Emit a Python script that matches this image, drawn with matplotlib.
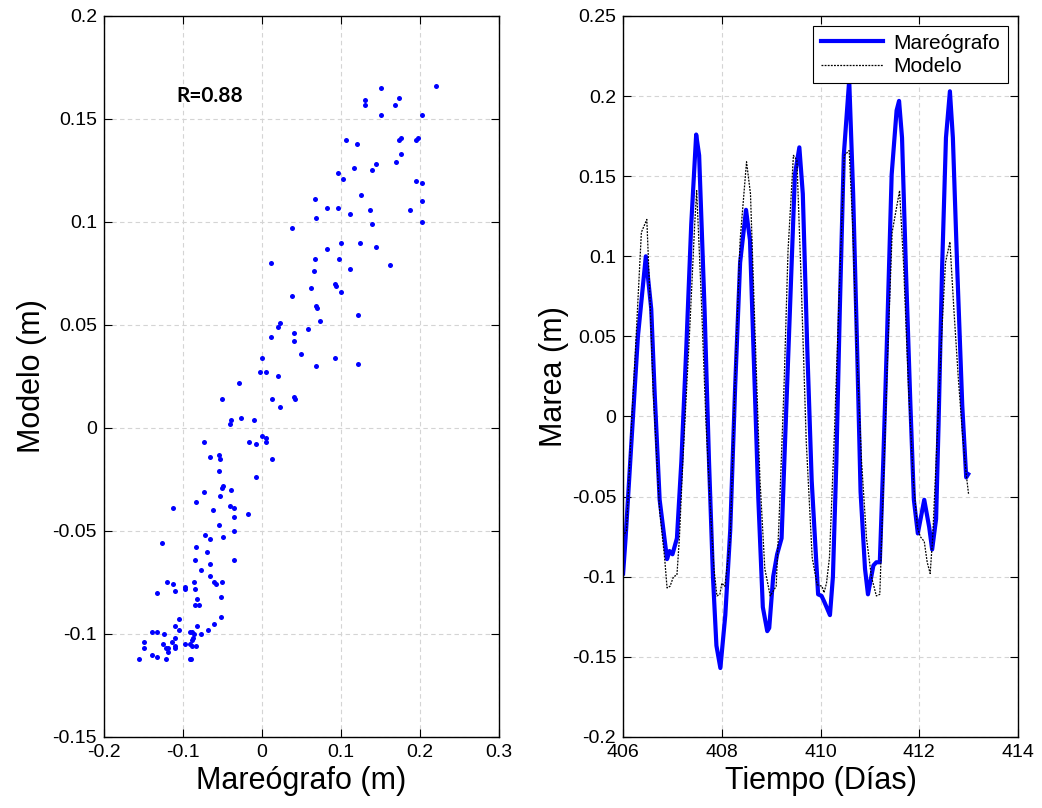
'''
    Scatter of model vs tide gauge and tide time series
'''

import numpy as np
import matplotlib
matplotlib.use('Agg')
import matplotlib.pyplot as plt
from matplotlib.ticker import FuncFormatter

# Scatter: tide gauge (x) vs model (y), metres
mareo_x = [0.220, 0.151, 0.130, 0.130, 0.173, 0.168, 0.151, 0.202, 0.106, 0.120,
           0.173, 0.176, 0.195, 0.197, 0.176, 0.117, 0.145, 0.139, 0.170, 0.096,
           0.102, 0.195, 0.202, 0.067, 0.082, 0.096, 0.111, 0.125, 0.137, 0.187,
           0.203, 0.203, 0.069, 0.038, 0.139, 0.100, 0.124, 0.145, 0.082, 0.011,
           0.067, 0.098, 0.162, 0.066, 0.111, 0.062, 0.092, 0.094, 0.100, 0.038,
           0.068, 0.070,
           0.122, 0.073, 0.023, 0.020, 0.058, 0.040, 0.041, 0.011, 0.049, 0.000,
           0.092, 0.068, 0.122, -0.003, 0.005, 0.020, -0.029, -0.051, 0.013, 0.041,
           0.042, 0.023, -0.027, -0.039, -0.041, -0.010, 0.000, 0.005, 0.005, -0.017,
           -0.008, -0.073, -0.054, -0.066, -0.053, 0.013, -0.054, -0.008, -0.051, -0.049,
           -0.039, -0.073, -0.053,
           -0.083, -0.112, -0.062, -0.041, -0.036, -0.018, -0.036, -0.054, -0.035, -0.127,
           -0.072, -0.066, -0.049, -0.083, -0.070, -0.085, -0.066, -0.036, -0.077, -0.066,
           -0.120, -0.112, -0.098, -0.098, -0.086, -0.061, -0.058, -0.050, -0.133, -0.110,
           -0.085, -0.052, -0.082, -0.085, -0.080, -0.052, -0.105, -0.061, -0.110, -0.082,
           -0.139, -0.133, -0.124, -0.105, -0.091, -0.089, -0.086, -0.077, -0.068, -0.110,
           -0.087, -0.089, -0.149, -0.125, -0.114, -0.110, -0.097, -0.091, -0.083, -0.149,
           -0.121, -0.119, -0.110, -0.089, -0.139, -0.133, -0.119, -0.156, -0.121, -0.091,
           -0.090]
modelo_y = [0.166, 0.165, 0.159, 0.157, 0.160, 0.157, 0.152, 0.152, 0.140, 0.138,
            0.140, 0.141, 0.140, 0.141, 0.133, 0.126, 0.128, 0.125, 0.129, 0.124,
            0.121, 0.120, 0.119, 0.111, 0.107, 0.107, 0.104, 0.113, 0.106, 0.106,
            0.110, 0.100, 0.102, 0.097, 0.099, 0.090, 0.090, 0.088, 0.087, 0.080,
            0.082, 0.082, 0.079, 0.076, 0.077, 0.068, 0.070, 0.069, 0.066, 0.064,
            0.059, 0.058,
            0.055, 0.052, 0.051, 0.049, 0.048, 0.046, 0.042, 0.044, 0.036, 0.034,
            0.034, 0.030, 0.031, 0.027, 0.027, 0.025, 0.022, 0.014, 0.014, 0.015,
            0.014, 0.010, 0.005, 0.004, 0.002, 0.004, -0.004, -0.005, -0.007, -0.007,
            -0.008, -0.007, -0.013, -0.014, -0.015, -0.015, -0.021, -0.024, -0.029, -0.028,
            -0.030, -0.031, -0.033,
            -0.036, -0.039, -0.040, -0.038, -0.039, -0.042, -0.043, -0.047, -0.050, -0.056,
            -0.052, -0.054, -0.053, -0.058, -0.060, -0.064, -0.066, -0.064, -0.069, -0.072,
            -0.075, -0.076, -0.077, -0.078, -0.075, -0.075, -0.076, -0.075, -0.080, -0.079,
            -0.078, -0.082, -0.083, -0.086, -0.086, -0.092, -0.093, -0.095, -0.096, -0.096,
            -0.099, -0.099, -0.100, -0.098, -0.099, -0.099, -0.100, -0.100, -0.098, -0.102,
            -0.102, -0.103, -0.104, -0.105, -0.104, -0.106, -0.105, -0.105, -0.106, -0.107,
            -0.107, -0.107, -0.107, -0.106, -0.110, -0.111, -0.109, -0.112, -0.112, -0.112,
            -0.112]

# Time series (days)
t_mareo = [406.00, 406.05, 406.20, 406.30, 406.46, 406.57, 406.64, 406.74, 406.89, 406.94,
           407.00, 407.09, 407.18, 407.28, 407.38, 407.48, 407.54, 407.65, 407.74, 407.82,
           407.89, 407.97, 408.07, 408.17, 408.27, 408.37, 408.49, 408.57, 408.64, 408.74,
           408.83, 408.92, 408.96, 409.04, 409.12, 409.21, 409.28, 409.38, 409.48, 409.57,
           409.64, 409.73, 409.82, 409.95, 410.02, 410.08, 410.19, 410.25, 410.32, 410.39,
           410.47, 410.58, 410.66, 410.74, 410.81, 410.90, 410.96, 411.07, 411.13, 411.20,
           411.27, 411.34, 411.44, 411.54, 411.59, 411.65, 411.73, 411.82, 411.89, 411.97,
           412.10, 412.20, 412.26, 412.34, 412.39, 412.46, 412.54, 412.62, 412.68, 412.77,
           412.87, 412.95, 412.99]
h_mareo = [-0.098, -0.076, 0.000, 0.050, 0.100, 0.067, 0.014, -0.052, -0.089, -0.084,
           -0.086, -0.076, -0.028, 0.043, 0.120, 0.176, 0.163, 0.067, -0.028, -0.100,
           -0.143, -0.157, -0.124, -0.071, 0.019, 0.096, 0.129, 0.110, 0.043, -0.052,
           -0.119, -0.134, -0.132, -0.100, -0.086, -0.076, -0.016, 0.067, 0.151, 0.168,
           0.139, 0.043, -0.040, -0.111, -0.112, -0.116, -0.124, -0.100, -0.028, 0.067,
           0.163, 0.210, 0.139, 0.043, -0.047, -0.095, -0.111, -0.093, -0.091, -0.091,
           -0.028, 0.043, 0.151, 0.191, 0.197, 0.174, 0.091, 0.007, -0.052, -0.073,
           -0.052, -0.069, -0.083, -0.064, -0.005, 0.091, 0.174, 0.203, 0.174, 0.091,
           0.007, -0.038, -0.036]

t_modelo = [406.00, 406.07, 406.17, 406.26, 406.37, 406.48, 406.54, 406.61, 406.74, 406.84,
            406.89, 406.95, 407.02, 407.09, 407.14, 407.21, 407.35, 407.45, 407.49, 407.58,
            407.68, 407.78, 407.84, 407.90, 407.96, 408.00, 408.06, 408.12, 408.17, 408.27,
            408.37, 408.50, 408.58, 408.67, 408.77, 408.87, 408.98, 409.02, 409.10, 409.16,
            409.26, 409.34, 409.45, 409.52, 409.60, 409.71, 409.83, 409.93, 410.03, 410.07,
            410.12, 410.18, 410.28, 410.38, 410.48, 410.58, 410.65, 410.73, 410.83, 410.93,
            411.03, 411.13, 411.20, 411.25, 411.35, 411.45, 411.60, 411.68, 411.78, 411.88,
            411.96, 412.02, 412.10, 412.16, 412.22, 412.27, 412.34, 412.39, 412.46, 412.53,
            412.62, 412.70, 412.79, 412.87, 412.95, 413.00]
h_modelo = [-0.075, -0.071, -0.005, 0.048, 0.115, 0.123, 0.077, 0.015, -0.059, -0.088,
            -0.107, -0.106, -0.100, -0.099, -0.076, -0.028, 0.055, 0.120, 0.141, 0.077,
            -0.005, -0.064, -0.095, -0.112, -0.111, -0.104, -0.106, -0.090, -0.076, 0.024,
            0.110, 0.159, 0.139, 0.055, -0.038, -0.095, -0.112, -0.110, -0.106, -0.064,
            0.019, 0.103, 0.163, 0.160, 0.091, -0.016, -0.088, -0.105, -0.106, -0.110,
            -0.104, -0.088, -0.011, 0.079, 0.163, 0.166, 0.120, 0.043, -0.028, -0.076,
            -0.100, -0.112, -0.111, -0.064, 0.031, 0.115, 0.141, 0.096, 0.019, -0.040,
            -0.069, -0.075, -0.078, -0.091, -0.098, -0.076, -0.028, 0.007, 0.055, 0.096,
            0.109, 0.067, 0.024, -0.009, -0.036, -0.049]

R_TEXT = 'R=0.88'


def style_axes(ax, xticks, yticks):
    ax.set_xticks(xticks)
    ax.set_yticks(yticks)
    ax.set_xlim(xticks[0], xticks[-1])
    ax.set_ylim(yticks[0], yticks[-1])
    fmt = FuncFormatter(lambda v, p: f'{round(v, 4) + 0.0:g}')
    ax.xaxis.set_major_formatter(fmt)
    ax.yaxis.set_major_formatter(fmt)
    ax.tick_params(direction='in', top=True, right=True, length=6, width=0.8,
                   labelsize=14, pad=5)
    ax.grid(True, color='#d4d4d4', linestyle=(0, (4, 3)), linewidth=0.8)
    ax.set_axisbelow(True)
    for s in ax.spines.values():
        s.set_linewidth(1.0)


if __name__ == '__main__':
    plt.rcParams['font.family'] = ['Liberation Sans', 'DejaVu Sans']

    fig = plt.figure(figsize=(10.42, 8.08), dpi=100)
    ax1 = fig.add_axes([0.0998, 0.088, 0.379, 0.8922])
    ax2 = fig.add_axes([0.598, 0.088, 0.379, 0.8922])

    ## Scatter
    ax1.plot(mareo_x, modelo_y, 'o', color='blue', markersize=3.6, markeredgewidth=0)
    style_axes(ax1, np.arange(-0.2, 0.31, 0.1), np.arange(-0.15, 0.21, 0.05))
    ax1.set_xlabel('Mareógrafo (m)', fontsize=22, labelpad=4)
    ax1.set_ylabel('Modelo (m)', fontsize=22, labelpad=4)
    ax1.text(-0.108, 0.161, R_TEXT, fontsize=15, fontweight='bold',
             family='Lato', va='center', ha='left')

    ## Time series
    ax2.plot(t_mareo, h_mareo, color='blue', linewidth=3, label='Mareógrafo')
    ax2.plot(t_modelo, h_modelo, color='black', linewidth=0.9,
             linestyle=(0, (1.5, 1)), label='Modelo')
    style_axes(ax2, np.arange(406, 414.1, 2), np.arange(-0.2, 0.26, 0.05))
    ax2.set_xlabel('Tiempo (Días)', fontsize=22, labelpad=4)
    ax2.set_ylabel('Marea (m)', fontsize=22, labelpad=2)
    leg = ax2.legend(loc='upper right', fontsize=15, frameon=True, fancybox=False,
                     framealpha=1, edgecolor='black', handlelength=3.0,
                     borderaxespad=0.5, borderpad=0.35, labelspacing=0.2,
                     handletextpad=0.5)
    leg.get_frame().set_linewidth(0.8)

    fig.savefig('out.png', dpi=100)
